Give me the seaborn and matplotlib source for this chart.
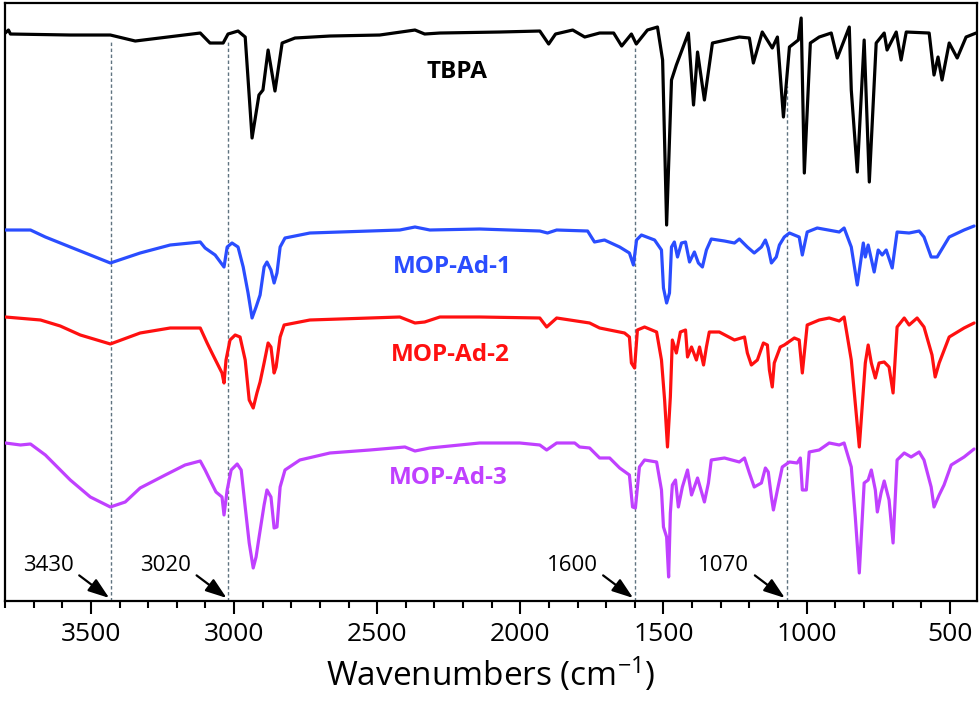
import numpy as np
import pandas as pd
import matplotlib
matplotlib.use("Agg")
import matplotlib.pyplot as plt
import seaborn as sns

# FTIR spectra, offset transmittance in arbitrary units
tbpa_wn = [3799, 3788, 3781, 3572, 3432, 3345, 3118, 3084, 3038, 3021, 2986, 2961, 2937, 2913,
           2899, 2881, 2857, 2832, 2787, 2665, 2491, 2368, 2334, 2281, 2072, 1932, 1901, 1877,
           1817, 1775, 1723, 1674, 1646, 1612, 1595, 1556, 1521, 1503, 1489, 1472, 1455, 1413,
           1395, 1381, 1357, 1329, 1235, 1200, 1186, 1155, 1120, 1102, 1081, 1060, 1029, 1019,
           1008, 987, 956, 914, 893, 851, 844, 823, 799, 781, 757, 729, 719, 687, 670, 652,
           572, 555, 541, 527, 502, 474, 443, 408]
tbpa_t = [567, 570, 566, 565, 565, 559, 567, 557, 557, 566, 569, 563, 462, 505,
          510, 550, 509, 557, 562, 564, 565, 570, 566, 567, 568, 569, 556, 566,
          570, 563, 567, 567, 554, 566, 556, 570, 573, 540, 375, 520, 535, 567,
          495, 548, 500, 557, 563, 562, 537, 568, 552, 563, 483, 553, 560, 582,
          427, 557, 563, 567, 542, 573, 510, 428, 560, 418, 557, 567, 550, 568, 540, 568,
          567, 525, 543, 520, 557, 542, 563, 567]

ad1_wn = [3799, 3711, 3659, 3572, 3432, 3328, 3223, 3118, 3101, 3066, 3035, 3024, 3007, 2986,
          2968, 2951, 2937, 2923, 2909, 2895, 2885, 2871, 2860, 2850, 2839, 2822, 2735, 2421,
          2368, 2316, 2142, 1932, 1905, 1873, 1765, 1741, 1706, 1653, 1619, 1605, 1594, 1577,
          1531, 1507, 1500, 1489, 1479, 1472, 1462, 1451, 1437, 1423, 1409, 1392, 1378, 1364,
          1350, 1333, 1287, 1252, 1235, 1207, 1183, 1158, 1144, 1134, 1123, 1106, 1095, 1078,
          1060, 1026, 1015, 998, 963, 886, 869, 844, 823, 802, 795, 785, 764, 750, 736, 722,
          701, 684, 642, 607, 590, 565, 544, 502, 450, 415]
ad1_t = [370, 370, 363, 353, 337, 347, 355, 358, 352, 345, 333, 353, 357, 353,
         333, 307, 282, 293, 305, 333, 338, 330, 317, 327, 353, 362, 367, 370,
         373, 370, 371, 369, 367, 370, 369, 358, 360, 353, 347, 335, 360, 365,
         360, 350, 312, 297, 307, 353, 358, 343, 357, 358, 338, 348, 337, 333,
         350, 361, 359, 357, 361, 353, 347, 353, 360, 352, 337, 343, 355, 363,
         367, 363, 345, 368, 372, 368, 372, 353, 315, 357, 343, 355, 328, 350, 345, 350,
         332, 368, 367, 369, 363, 343, 343, 363, 370, 374]

ad2_wn = [3799, 3676, 3607, 3537, 3432, 3328, 3223, 3118, 3094, 3077, 3056, 3042, 3035, 3028,
          3014, 2996, 2979, 2961, 2947, 2933, 2920, 2909, 2895, 2881, 2871, 2860, 2853, 2839,
          2825, 2735, 2421, 2368, 2334, 2281, 2142, 1932, 1908, 1873, 1758, 1723, 1636, 1619,
          1612, 1601, 1591, 1566, 1524, 1507, 1496, 1486, 1476, 1469, 1455, 1441, 1423, 1416,
          1402, 1385, 1374, 1360, 1350, 1340, 1305, 1252, 1217, 1207, 1193, 1172, 1151, 1137,
          1130, 1120, 1113, 1092, 1078, 1043, 1026, 1015, 998, 956, 921, 886, 869, 844, 816,
          795, 785, 774, 760, 747, 729, 712, 698, 684, 659, 642, 614, 590, 562, 551, 537,
          502, 450, 415]
ad2_t = [283, 280, 274, 265, 256, 267, 272, 272, 257, 247, 235, 227, 217, 240,
         260, 265, 263, 240, 200, 192, 207, 218, 237, 257, 253, 227, 233, 263,
         275, 280, 283, 277, 278, 283, 283, 282, 273, 282, 277, 272, 267, 263,
         237, 232, 270, 273, 268, 240, 200, 153, 203, 260, 247, 268, 270, 243,
         253, 240, 253, 235, 253, 268, 268, 260, 263, 247, 235, 240, 257, 255,
         230, 213, 237, 253, 255, 262, 260, 227, 275, 280, 282, 279, 283, 240, 153,
         237, 255, 237, 222, 237, 238, 233, 207, 273, 282, 275, 282, 273, 245, 223, 237,
         263, 272, 277]

ad3_wn = [3799, 3746, 3711, 3659, 3572, 3502, 3432, 3380, 3328, 3240, 3171, 3118, 3101, 3084,
          3063, 3042, 3035, 3024, 3010, 2989, 2975, 2961, 2947, 2933, 2923, 2913, 2895, 2885,
          2871, 2860, 2850, 2839, 2822, 2770, 2665, 2525, 2403, 2368, 2316, 2142, 2002, 1932,
          1908, 1873, 1810, 1793, 1758, 1723, 1688, 1653, 1619, 1608, 1598, 1584, 1566, 1524,
          1507, 1500, 1489, 1482, 1476, 1469, 1458, 1448, 1434, 1416, 1402, 1381, 1367, 1357,
          1343, 1333, 1287, 1235, 1217, 1200, 1183, 1158, 1144, 1134, 1123, 1116, 1102, 1085,
          1060, 1033, 1022, 1015, 1001, 991, 956, 921, 886, 869, 844, 830, 816, 799, 785, 774,
          760, 753, 740, 729, 712, 698, 684, 659, 635, 607, 590, 565, 555, 537, 520, 495,
          450, 415]
ad3_t = [157, 155, 156, 145, 120, 103, 93, 98, 112, 125, 135, 139, 130, 120,
         108, 103, 85, 110, 130, 136, 130, 93, 57, 32, 43, 62, 95, 110,
         103, 72, 73, 113, 130, 140, 147, 150, 153, 149, 152, 157, 157, 155,
         150, 157, 157, 153, 152, 142, 142, 132, 125, 93, 92, 133, 140, 138,
         110, 73, 63, 23, 87, 115, 120, 93, 113, 130, 105, 122, 108, 98,
         117, 140, 142, 138, 142, 127, 113, 117, 132, 128, 103, 90, 110, 133,
         138, 137, 142, 110, 110, 148, 150, 157, 155, 157, 133, 83, 27, 117, 120, 130,
         110, 88, 107, 119, 100, 57, 140, 147, 143, 148, 140, 113, 93, 105, 115, 135,
         143, 151]

samples = ["TBPA", "MOP-Ad-1", "MOP-Ad-2", "MOP-Ad-3"]
colors = ["#000000", "#2a4dff", "#ff1010", "#c040ff"]
label_wn = [2222, 2239, 2246, 2253]
label_t = [528, 333, 245, 122]

marked_wn = [3430, 3020, 1600, 1070]

frames = []
for name, wn, t in zip(samples, [tbpa_wn, ad1_wn, ad2_wn, ad3_wn], [tbpa_t, ad1_t, ad2_t, ad3_t]):
    frames.append(pd.DataFrame({"wavenumber": wn, "T": t, "sample": name}))
df = pd.concat(frames, ignore_index=True)

sns.set_style("white")
plt.rcParams["font.family"] = ["Open Sans", "DejaVu Sans"]
plt.rcParams["mathtext.fontset"] = "custom"
plt.rcParams["mathtext.rm"] = "Open Sans"
plt.rcParams["mathtext.default"] = "regular"
plt.rcParams["text.color"] = "black"
plt.rcParams["axes.labelcolor"] = "black"
plt.rcParams["xtick.color"] = "black"
plt.rcParams["lines.solid_joinstyle"] = "round"

fig = plt.figure(figsize=(9.8, 7.02), dpi=100)
ax = fig.add_axes([0.0051, 0.1439, 0.9918, 0.8518])

# dashed guides from black trace down to the axis
tb = df[df["sample"] == "TBPA"].sort_values("wavenumber")
for wn in marked_wn:
    top = np.interp(wn, tb["wavenumber"], tb["T"]) - 6
    ax.vlines(wn, -1, top, colors="#5f7380", linestyles=(0, (2.5, 1.8)), linewidth=1.0, zorder=1)

sns.lineplot(data=df, x="wavenumber", y="T", hue="sample", palette=dict(zip(samples, colors)),
             sort=False, estimator=None, linewidth=2.3, legend=False, ax=ax, zorder=3)

for name, c, x, y in zip(samples, colors, label_wn, label_t):
    ax.text(x, y, name, color=c, fontsize=17.5, fontweight="bold", ha="center", va="center")

for wn in marked_wn:
    ax.annotate(str(wn), xy=(wn + 6, 2), xytext=(wn + 130, 34), ha="right", va="center",
                fontsize=16, color="black",
                arrowprops=dict(arrowstyle="-|>,head_length=0.8,head_width=0.28", color="black",
                                lw=1.6, shrinkA=2, shrinkB=0, relpos=(1.0, 0.25)))

ax.set_xlim(3800, 405)
ax.set_ylim(-1, 597)
ax.set_xticks([3500, 3000, 2500, 2000, 1500, 1000, 500])
ax.set_xticks(np.arange(3800, 400, -100), minor=True)
ax.set_yticks([])
ax.tick_params(axis="x", which="major", direction="out", length=9, width=1.5, labelsize=19, pad=6,
               bottom=True, top=False, colors="black")
ax.tick_params(axis="x", which="minor", direction="out", length=5, width=1.5, bottom=True, top=False,
               colors="black")
for s in ax.spines.values():
    s.set_color("black")
    s.set_linewidth(1.6)
ax.set_xlabel(r"Wavenumbers (cm$^{-1}$)", fontsize=24, labelpad=6, color="black")
ax.set_ylabel("")

fig.savefig("out.png", dpi=100)
